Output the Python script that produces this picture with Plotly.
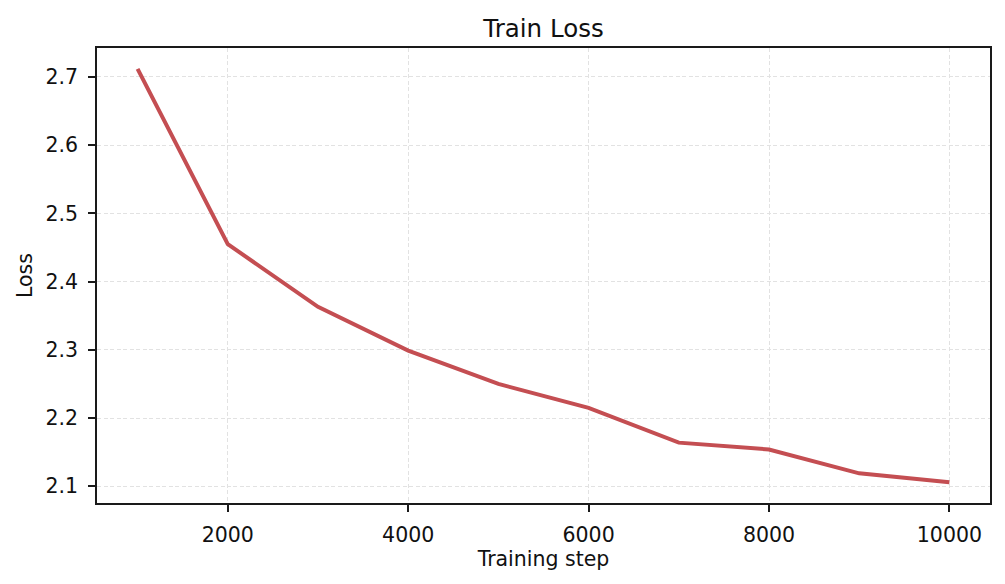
import plotly.graph_objects as go

steps = [1000, 2000, 3000, 4000, 5000, 6000, 7000, 8000, 9000, 10000]
loss = [2.712, 2.455, 2.363, 2.299, 2.250, 2.215, 2.164, 2.154, 2.119, 2.106]
x_ticks = [2000, 4000, 6000, 8000, 10000]
y_ticks = [2.1, 2.2, 2.3, 2.4, 2.5, 2.6, 2.7]

fig = go.Figure()
fig.add_trace(go.Scatter(x=steps, y=loss, mode="lines",
                         line=dict(color="#C44E52", width=4), showlegend=False))

font = "DejaVu Sans"
axis_common = dict(showline=True, linecolor="#1a1a1a", linewidth=1.6, mirror=True,
                   ticks="outside", ticklen=7, tickwidth=1.6, tickcolor="#1a1a1a",
                   showgrid=True, gridcolor="#e2e2e2", griddash="4px,2.5px", gridwidth=1,
                   zeroline=False, ticklabelstandoff=6,
                   tickfont=dict(family=font, size=20.5, color="#111"))

fig.update_layout(
    width=997, height=576,
    margin=dict(l=89, r=15, t=40, b=81),
    plot_bgcolor="white", paper_bgcolor="white",
    title=dict(text="Train Loss", x=0.5, xref="paper", xanchor="center", y=0.965, yanchor="middle",
               font=dict(family=font, size=24.5, color="#111")),
    xaxis=dict(range=[550, 10450], tickvals=x_ticks, ticktext=[str(v) for v in x_ticks],
               title=dict(text="Training step", font=dict(family=font, size=20.5, color="#111"), standoff=5),
               **axis_common),
    yaxis=dict(range=[2.0755, 2.7425], tickvals=y_ticks, ticktext=[f"{v:.1f}" for v in y_ticks],
               title=dict(text="Loss", font=dict(family=font, size=20.5, color="#111"), standoff=7),
               **axis_common),
)

fig.write_html("out.html")
